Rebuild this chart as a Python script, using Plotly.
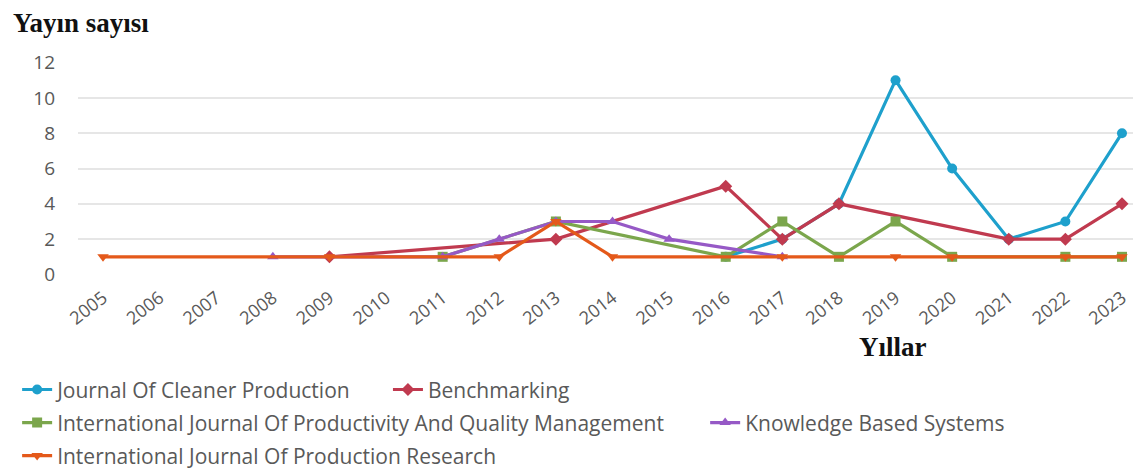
import plotly.graph_objects as go

years = list(range(2005, 2024))
year_labels = [str(y) for y in years]

cleaner_production = [None]*11 + [1, 2, 4, 11, 6, 2, 3, 8]
benchmarking = [None, None, None, None, 1, None, None, None, 2, None, None, 5, 2, 4, None, None, 2, 2, 4]
ijpqm = [None]*6 + [1, None, 3, None, None, 1, 3, 1, 3, 1, None, 1, 1]
knowledge_based = [None, None, None, 1, None, None, 1, 2, 3, 3, 2, None, 1, None, None, None, None, None, None]
ijpr = [1, None, None, None, 1, None, None, 1, 3, 1, None, None, 1, None, 1, 1, None, 1, 1]

series_names = [
    "Journal Of Cleaner Production",
    "Benchmarking",
    "International Journal Of Productivity And Quality Management",
    "Knowledge Based Systems",
    "International Journal Of Production Research",
]
series_values = [cleaner_production, benchmarking, ijpqm, knowledge_based, ijpr]
colors = ["#1ea0cc", "#c03a4f", "#7ba64c", "#9659c6", "#e4591a"]
symbols = ["circle", "diamond", "square", "triangle-up", "triangle-down"]
legends = ["legend", "legend2", "legend3", "legend4", "legend5"]

fig = go.Figure()
for name, vals, col, sym, lg in zip(series_names, series_values, colors, symbols, legends):
    fig.add_trace(go.Scatter(
        x=years, y=vals, name=name, mode="lines+markers", connectgaps=True,
        line=dict(color=col, width=3.2), marker=dict(symbol=sym, size=10, color=col),
        legend=lg,
    ))

legend_font = dict(family="Open Sans, sans-serif", size=21, color="#595959")
common_legend = dict(orientation="h", font=legend_font, bgcolor="rgba(0,0,0,0)",
                     itemwidth=30, xanchor="left", yanchor="middle",
                     xref="container", yref="container")

fig.update_layout(
    width=1141, height=472,
    margin=dict(l=70, r=8, t=54, b=205),
    plot_bgcolor="white", paper_bgcolor="white",
    showlegend=True,
    legend=dict(**common_legend, x=0.008, y=0.191),
    legend2=dict(**common_legend, x=0.333, y=0.191),
    legend3=dict(**common_legend, x=0.008, y=0.121),
    legend4=dict(**common_legend, x=0.611, y=0.121),
    legend5=dict(**common_legend, x=0.008, y=0.051),
    xaxis=dict(
        tickmode="array", tickvals=years, ticktext=year_labels,
        range=[2004.558, 2023.336], tickangle=-38,
        showgrid=False, showline=False, zeroline=False, ticks="",
        ticklabelstandoff=8,
        tickfont=dict(family="Open Sans, sans-serif", size=18, color="#595959"),
    ),
    yaxis=dict(
        range=[-0.03, 12.03], tickvals=[0, 2, 4, 6, 8, 10, 12],
        showgrid=True, gridcolor="#e6e6e6", gridwidth=2, zeroline=False, showline=False,
        ticks="", ticklabelstandoff=22,
        tickfont=dict(family="Open Sans, sans-serif", size=19, color="#595959"),
    ),
    annotations=[
        dict(text="<b>Yayın sayısı</b>", xref="paper", yref="paper", x=-0.063, y=1.183,
             xanchor="left", yanchor="middle", showarrow=False,
             font=dict(family="Liberation Serif, serif", size=27, color="#111111")),
        dict(text="<b>Yıllar</b>", xref="paper", yref="paper", x=0.7667, y=-0.336,
             xanchor="center", yanchor="middle", showarrow=False,
             font=dict(family="Liberation Serif, serif", size=27, color="#111111")),
    ],
)

fig.write_html("out.html")
